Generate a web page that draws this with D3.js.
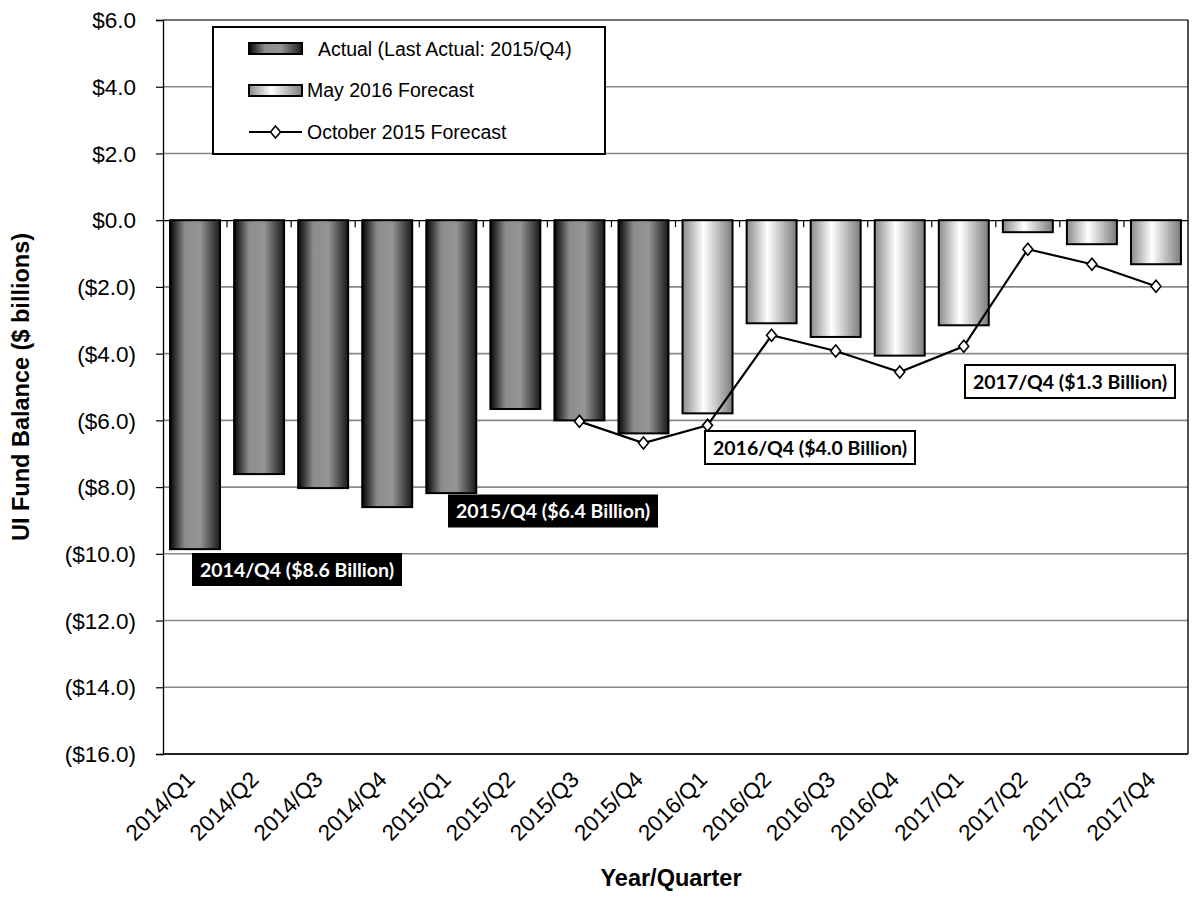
<!DOCTYPE html>
<html>
<head>
<meta charset="utf-8">
<script src="https://cdn.jsdelivr.net/npm/d3@7/dist/d3.min.js"></script>
<style>
  html, body { margin: 0; padding: 0; background: #fff; }
  svg { display: block; }
</style>
</head>
<body>
<script>
// ---- data ----
const categories = ["2014/Q1","2014/Q2","2014/Q3","2014/Q4","2015/Q1","2015/Q2","2015/Q3","2015/Q4",
                    "2016/Q1","2016/Q2","2016/Q3","2016/Q4","2017/Q1","2017/Q2","2017/Q3","2017/Q4"];
const actual      = [-9.86,-7.61,-8.03,-8.60,-8.18,-5.66,-6.00,-6.39, null,null,null,null,null,null,null,null];
const may2016     = [null,null,null,null,null,null,null,null, -5.79,-3.09,-3.50,-4.06,-3.15,-0.36,-0.72,-1.32];
const oct2015     = [null,null,null,null,null,null,-6.03,-6.68,-6.15,-3.45,-3.92,-4.55,-3.78,-0.87,-1.32,-1.98];
const yTicks      = [6,4,2,0,-2,-4,-6,-8,-10,-12,-14,-16];
const legendLabels = ["Actual (Last Actual: 2015/Q4)", "May 2016 Forecast", "October 2015 Forecast"];
const annotations = [
  {text: "2014/Q4 ($8.6 Billion)", cx: 297, cy: 569.5, dark: true},
  {text: "2015/Q4 ($6.4 Billion)", cx: 553, cy: 511, dark: true},
  {text: "2016/Q4 ($4.0 Billion)", cx: 810, cy: 447.5, dark: false},
  {text: "2017/Q4 ($1.3 Billion)", cx: 1070, cy: 381.5, dark: false}
];

const W = 1194, H = 899;
const L = 163, R = 1188, T = 20, B = 754;
const font = "'Liberation Sans', Arial, sans-serif";

const svg = d3.select("body").append("svg").attr("width", W).attr("height", H);
const defs = svg.append("defs");

const gA = defs.append("linearGradient").attr("id","gradActual").attr("x1","0%").attr("x2","100%").attr("y1","0%").attr("y2","0%");
[[0,"#050505"],[0.3,"#8c8c8c"],[0.6,"#959595"],[1,"#1a1a1a"]].forEach(s=>gA.append("stop").attr("offset",s[0]).attr("stop-color",s[1]));
const gF = defs.append("linearGradient").attr("id","gradFore").attr("x1","0%").attr("x2","100%").attr("y1","0%").attr("y2","0%");
[[0,"#8a8a8a"],[0.42,"#ffffff"],[1,"#7c7c7c"]].forEach(s=>gF.append("stop").attr("offset",s[0]).attr("stop-color",s[1]));

const x = d3.scaleBand().domain(categories).range([L, R]).paddingInner(0.22).paddingOuter(0.11);
const y = d3.scaleLinear().domain([-16, 6]).range([B, T]);

// gridlines
svg.append("g").selectAll("line").data(yTicks.filter(v => v !== 0)).join("line")
  .attr("x1", L).attr("x2", R).attr("y1", d => y(d)).attr("y2", d => y(d))
  .attr("stroke", d => d === 6 ? "#444" : "#888").attr("stroke-width", 1.6);

// y axis
const yAxis = d3.axisLeft(y).tickValues(yTicks).tickSize(7).tickPadding(20)
  .tickFormat(d => d < 0 ? "($" + d3.format(".1f")(-d) + ")" : "$" + d3.format(".1f")(d));
const gy = svg.append("g").attr("transform", `translate(${L},0)`).call(yAxis);
gy.select(".domain").attr("stroke", "#000").attr("stroke-width", 1.3);
gy.selectAll(".tick line").attr("stroke", "#000").attr("stroke-width", 1.2);
gy.selectAll(".tick text").attr("font-family", font).attr("font-size", 22.5).attr("fill", "#000").attr("dy", "0.34em");

// frame right and bottom
svg.append("line").attr("x1", R).attr("x2", R).attr("y1", T).attr("y2", B).attr("stroke", "#222").attr("stroke-width", 1.6);
svg.append("line").attr("x1", L).attr("x2", R).attr("y1", B).attr("y2", B).attr("stroke", "#222").attr("stroke-width", 1.8);

// zero line with ticks
const xAxis0 = d3.axisBottom(x).tickSize(0).tickFormat("");
const g0 = svg.append("g").attr("transform", `translate(0,${y(0)})`).call(xAxis0);
g0.select(".domain").attr("stroke", "#000").attr("stroke-width", 1.3);
const step = x.step();
svg.append("g").selectAll("line").data(categories.slice(1)).join("line")
  .attr("x1", d => x(d) - (step - x.bandwidth())/2).attr("x2", d => x(d) - (step - x.bandwidth())/2)
  .attr("y1", y(0)).attr("y2", y(0) + 7).attr("stroke", "#000").attr("stroke-width", 1.2);

// bars
function drawBars(vals, fill) {
  svg.append("g").selectAll("rect").data(categories.map((c,i)=>({c, v: vals[i]})).filter(d => d.v !== null)).join("rect")
    .attr("x", d => x(d.c)).attr("width", x.bandwidth())
    .attr("y", d => y(Math.max(0, d.v))).attr("height", d => Math.abs(y(d.v) - y(0)))
    .attr("fill", fill).attr("stroke", "#000").attr("stroke-width", 2);
}
drawBars(actual, "url(#gradActual)");
drawBars(may2016, "url(#gradFore)");

// line
const lineData = categories.map((c,i)=>({c, v: oct2015[i]})).filter(d => d.v !== null);
const cx = d => x(d.c) + x.bandwidth()/2;
svg.append("path").datum(lineData)
  .attr("d", d3.line().x(cx).y(d => y(d.v)))
  .attr("fill", "none").attr("stroke", "#000").attr("stroke-width", 2.2);
const diamond = "M0,-6L5,0L0,6L-5,0Z";
svg.append("g").selectAll("path").data(lineData).join("path")
  .attr("d", diamond).attr("transform", d => `translate(${cx(d)},${y(d.v)})`)
  .attr("fill", "#fff").attr("stroke", "#000").attr("stroke-width", 1.6);

// x labels
svg.append("g").selectAll("text").data(categories).join("text")
  .attr("transform", d => `translate(${x(d) + x.bandwidth()/2 + 1},${B + 27}) rotate(-45)`)
  .attr("text-anchor", "end").attr("font-family", font).attr("font-size", 22.5).attr("fill", "#000")
  .text(d => d);

// axis titles
svg.append("text").attr("x", 671).attr("y", 886).attr("text-anchor", "middle")
  .attr("font-family", font).attr("font-weight", "bold").attr("font-size", 23.5).text("Year/Quarter");
svg.append("text").attr("transform", `translate(29,${(T+B)/2}) rotate(-90)`).attr("text-anchor", "middle")
  .attr("font-family", font).attr("font-weight", "bold").attr("font-size", 23.5).text("UI Fund Balance ($ billions)");

// legend
const lg = svg.append("g");
lg.append("rect").attr("x", 213).attr("y", 27).attr("width", 392).attr("height", 127)
  .attr("fill", "#fff").attr("stroke", "#000").attr("stroke-width", 2);
lg.append("rect").attr("x", 249).attr("y", 43).attr("width", 53).attr("height", 11)
  .attr("fill", "url(#gradActual)").attr("stroke", "#000").attr("stroke-width", 2);
lg.append("rect").attr("x", 249).attr("y", 85).attr("width", 53).attr("height", 11)
  .attr("fill", "url(#gradFore)").attr("stroke", "#000").attr("stroke-width", 2);
lg.append("line").attr("x1", 249).attr("x2", 302).attr("y1", 132).attr("y2", 132).attr("stroke", "#000").attr("stroke-width", 2.2);
lg.append("path").attr("d", diamond).attr("transform", "translate(275.5,132)").attr("fill", "#fff").attr("stroke", "#000").attr("stroke-width", 1.6);
const legX = [318, 307, 307], legY = [56, 97, 139];
legendLabels.forEach((t,i) => {
  lg.append("text").attr("x", legX[i]).attr("y", legY[i]).attr("font-family", font).attr("font-size", 19.5).attr("fill", "#000").text(t);
});

// annotations
annotations.forEach(a => {
  const w = 210, h = 33;
  svg.append("rect").attr("x", a.cx - w/2).attr("y", a.cy - h/2).attr("width", w).attr("height", h)
    .attr("fill", a.dark ? "#000" : "#fff").attr("stroke", "#000").attr("stroke-width", a.dark ? 0 : 2);
  svg.append("text").attr("x", a.cx).attr("y", a.cy).attr("dy", "0.36em").attr("text-anchor", "middle")
    .attr("font-family", "Lato, 'Open Sans', sans-serif").attr("font-weight", "bold").attr("font-size", 19.5)
    .attr("fill", a.dark ? "#fff" : "#000").text(a.text);
});
</script>
</body>
</html>
